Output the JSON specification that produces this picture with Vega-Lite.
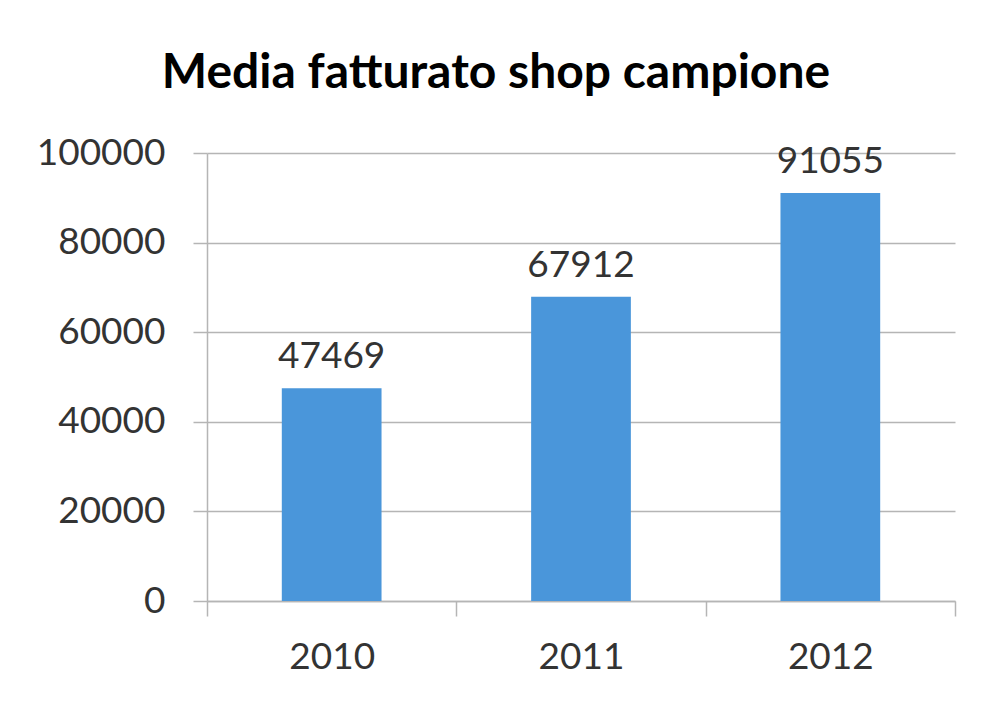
{
  "$schema": "https://vega.github.io/schema/vega-lite/v6.json",
  "width": 748,
  "height": 448,
  "padding": {"left": 36, "top": 50, "right": 44, "bottom": 30},
  "background": "white",
  "title": {
    "text": "Media fatturato shop campione",
    "font": "Lato",
    "fontSize": 48,
    "fontWeight": "bold",
    "color": "#000000",
    "anchor": "middle",
    "frame": "bounds",
    "offset": 36
  },
  "data": {
    "values": [
      {"anno": "2010", "fatturato": 47469},
      {"anno": "2011", "fatturato": 67912},
      {"anno": "2012", "fatturato": 91055}
    ]
  },
  "encoding": {
    "x": {
      "field": "anno",
      "type": "nominal",
      "scale": {"paddingInner": 0, "paddingOuter": 0},
      "axis": {
        "title": null,
        "labelAngle": 0,
        "labelFont": "Lato",
        "labelFontSize": 37,
        "labelColor": "#333333",
        "labelPadding": 23,
        "tickSize": 15,
        "tickBand": "extent",
        "tickColor": "#b5b5b5",
        "domainColor": "#b5b5b5",
        "tickWidth": 1.5,
        "domainWidth": 1.5
      }
    },
    "y": {
      "field": "fatturato",
      "type": "quantitative",
      "scale": {"domain": [0, 100000], "nice": false},
      "axis": {
        "title": null,
        "format": "d",
        "values": [0, 20000, 40000, 60000, 80000, 100000],
        "labelFont": "Lato",
        "labelFontSize": 37,
        "labelColor": "#333333",
        "labelPadding": 28,
        "tickSize": 14,
        "tickColor": "#b5b5b5",
        "domainColor": "#b5b5b5",
        "gridColor": "#b5b5b5",
        "grid": true,
        "tickWidth": 1.5,
        "domainWidth": 1.5,
        "gridWidth": 1.5
      }
    }
  },
  "layer": [
    {"mark": {"type": "bar", "color": "#4a96da", "width": {"band": 0.4}}},
    {
      "mark": {
        "type": "text",
        "baseline": "bottom",
        "dy": -12,
        "font": "Lato",
        "fontSize": 37,
        "color": "#333333"
      },
      "encoding": {"text": {"field": "fatturato", "type": "quantitative", "format": "d"}}
    }
  ],
  "config": {"view": {"stroke": null}}
}
